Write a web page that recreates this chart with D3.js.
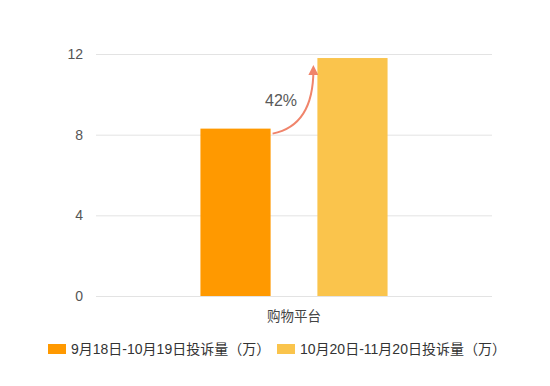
<!DOCTYPE html>
<html>
<head>
<meta charset="utf-8">
<script src="https://cdn.jsdelivr.net/npm/d3@7"></script>
<style>
  body { margin: 0; background: #fff; }
  text { font-family: "Liberation Sans", Arial, "Noto Sans CJK SC", sans-serif; }
</style>
</head>
<body>
<div id="chart"></div>
<script>
// 数据
const categories = ["购物平台"];
const seriesNames = ["9月18日-10月19日投诉量（万）", "10月20日-11月20日投诉量（万）"];
const seriesValues = [[8.3], [11.8]];
const yTicks = [0, 4, 8, 12];
const growthLabel = "42%";
const colors = ["#ff9900", "#fac44c"];

const width = 550, height = 386;
const margin = { top: 54, right: 58, bottom: 90, left: 96 };

const svg = d3.select("#chart").append("svg")
  .attr("width", width)
  .attr("height", height);

const x0 = d3.scaleBand()
  .domain(categories)
  .range([margin.left, width - margin.right])
  .padding(0);

const x1 = d3.scaleBand()
  .domain(seriesNames)
  .range([0, x0.bandwidth()])
  .paddingInner(0.4)
  .paddingOuter(0.893);

const y = d3.scaleLinear()
  .domain([0, 12])
  .range([height - margin.bottom, margin.top]);

// 网格线 + Y 轴
const yAxis = svg.append("g")
  .attr("transform", `translate(${margin.left},0)`)
  .call(d3.axisLeft(y).tickValues(yTicks).tickSize(-(width - margin.left - margin.right)).tickPadding(13));
yAxis.select(".domain").remove();
yAxis.selectAll(".tick line").attr("stroke", "#e3e3e3");
yAxis.selectAll(".tick text").attr("fill", "#555").style("font-size", "14px");

// 柱子
seriesNames.forEach((name, i) => {
  svg.selectAll(`rect.s${i}`)
    .data(categories)
    .enter()
    .append("rect")
    .attr("class", `s${i}`)
    .attr("x", c => x0(c) + x1(name))
    .attr("y", (c, j) => y(seriesValues[i][j]))
    .attr("width", x1.bandwidth())
    .attr("height", (c, j) => y(0) - y(seriesValues[i][j]))
    .attr("fill", colors[i]);
});

// X 轴标签
svg.selectAll("text.cat")
  .data(categories)
  .enter()
  .append("text")
  .attr("class", "cat")
  .attr("x", c => x0(c) + x0.bandwidth() / 2)
  .attr("y", y(0) + 25)
  .attr("text-anchor", "middle")
  .attr("fill", "#444")
  .style("font-size", "13.5px")
  .text(c => c);

// 增长箭头
const c0 = categories[0];
const ax = x0(c0) + x1(seriesNames[0]) + x1.bandwidth() + 2;
const ay = y(seriesValues[0][0]) + 5;
const bx = x0(c0) + x1(seriesNames[1]) - 4;
const by = y(seriesValues[1][0]) + 12;

svg.append("defs").append("marker")
  .attr("id", "arrow")
  .attr("viewBox", "0 0 10 10")
  .attr("refX", 5).attr("refY", 5)
  .attr("markerWidth", 5).attr("markerHeight", 5)
  .attr("orient", "auto")
  .append("path")
  .attr("d", "M0,0 L10,5 L0,10 z")
  .attr("fill", "#f0846b");

svg.append("path")
  .attr("d", `M${ax},${ay} Q${bx},${ay - 8} ${bx},${by}`)
  .attr("fill", "none")
  .attr("stroke", "#f0846b")
  .attr("stroke-width", 2)
  .attr("marker-end", "url(#arrow)");

svg.append("text")
  .attr("x", (ax + bx) / 2 - 12)
  .attr("y", (ay + by) / 2 + 4)
  .attr("text-anchor", "middle")
  .attr("fill", "#595959")
  .style("font-size", "16px")
  .text(growthLabel);

// 图例
const legendX = [48, 277];
const legend = svg.append("g").attr("transform", `translate(0, ${height - 37})`);
seriesNames.forEach((name, i) => {
  const g = legend.append("g").attr("transform", `translate(${legendX[i]}, 0)`);
  g.append("rect")
    .attr("x", 0).attr("y", -5)
    .attr("width", 18).attr("height", 10)
    .attr("fill", colors[i]);
  g.append("text")
    .attr("x", 23).attr("y", 5)
    .attr("fill", "#333")
    .style("font-size", "14px")
    .text(name);
});
</script>
</body>
</html>
